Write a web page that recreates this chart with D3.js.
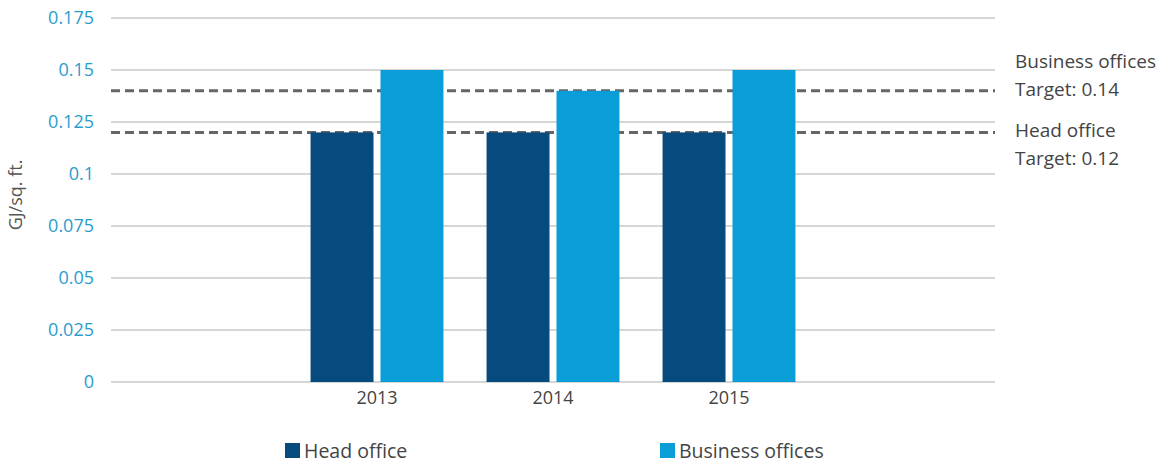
<!DOCTYPE html>
<html>
<head>
<meta charset="utf-8">
<script src="https://cdn.jsdelivr.net/npm/d3@7"></script>
<style>
  html, body { margin: 0; padding: 0; background: #fff; }
  svg { display: block; font-family: "Open Sans", "Noto Sans", sans-serif; }
</style>
</head>
<body>
<svg id="chart" width="1166" height="463"></svg>
<script>
// Energy intensity by year (GJ per square foot)
const years = ["2013", "2014", "2015"];
const seriesNames = ["Head office", "Business offices"];
const headOffice = [0.12, 0.12, 0.12];
const businessOffices = [0.15, 0.14, 0.15];
const targetNames = ["Business offices", "Head office"];
const targetValues = [0.14, 0.12];
const yTicks = [0, 0.025, 0.05, 0.075, 0.1, 0.125, 0.15, 0.175];

const colors = ["#064a7e", "#0b9dd8"];

const svg = d3.select("#chart");
const gridLeft = 111, gridRight = 995;

const y = d3.scaleLinear().domain([0, 0.175]).range([382, 18]);
const x = d3.scaleBand().domain(years).range([289, 817]).paddingInner(0.245).paddingOuter(0.1225);
const xs = d3.scaleBand().domain(seriesNames).range([0, x.bandwidth()]).paddingInner(0.1);

// horizontal gridlines
svg.append("g").selectAll("line").data(yTicks).join("line")
  .attr("x1", gridLeft).attr("x2", gridRight)
  .attr("y1", d => y(d)).attr("y2", d => y(d))
  .attr("stroke", "#c9c9c9").attr("stroke-width", 1.5);

// y tick labels
const yAxis = d3.axisLeft(y).tickValues(yTicks).tickSize(0).tickPadding(0)
  .tickFormat(d => d3.format("")(+d.toFixed(3)));
const ya = svg.append("g").attr("transform", "translate(94,0)").call(yAxis);
ya.select(".domain").remove();
ya.selectAll("text").attr("fill", "#2b9dcd").style("font-size", "18px")
  .style("font-family", "'Open Sans', sans-serif");

// y axis title
svg.append("text")
  .attr("transform", "translate(22,195) rotate(-90)")
  .attr("text-anchor", "middle")
  .attr("fill", "#555").style("font-size", "18px")
  .text("GJ/sq. ft.");

// target lines (drawn beneath the bars)
svg.append("g").selectAll("line").data(targetValues).join("line")
  .attr("x1", gridLeft).attr("x2", gridRight)
  .attr("y1", d => y(d)).attr("y2", d => y(d))
  .attr("stroke", "#666").attr("stroke-width", 3)
  .attr("stroke-dasharray", "9,5");

// bars
const data = years.map((yr, i) => ({ year: yr, values: [headOffice[i], businessOffices[i]] }));
const groups = svg.append("g").selectAll("g").data(data).join("g")
  .attr("transform", d => `translate(${x(d.year)},0)`);
groups.selectAll("rect")
  .data(d => d.values.map((v, j) => ({ name: seriesNames[j], value: v, j })))
  .join("rect")
  .attr("x", d => xs(d.name))
  .attr("width", xs.bandwidth())
  .attr("y", d => y(d.value))
  .attr("height", d => y(0) - y(d.value))
  .attr("fill", d => colors[d.j]);

// x axis labels
const xAxis = d3.axisBottom(x).tickSize(0).tickPadding(0);
const xa = svg.append("g").attr("transform", "translate(0,391)").call(xAxis);
xa.select(".domain").remove();
xa.selectAll("text").attr("fill", "#444").style("font-size", "18px")
  .style("font-family", "'Open Sans', sans-serif").attr("dy", "0.71em");

// target labels on the right: the upper one sits above its line, the lower one below
const labelShift = [-23, 5];
const targetLabels = svg.append("g");
targetValues.forEach((v, i) => {
  const t = targetLabels.append("text")
    .attr("x", 1015).attr("y", y(v) + labelShift[i])
    .attr("fill", "#444").style("font-size", "19px");
  t.append("tspan").attr("x", 1015).text(targetNames[i]);
  t.append("tspan").attr("x", 1015).attr("dy", 28).text("Target: " + v);
});

// legend
const legendX = [285, 660];
const legend = svg.append("g").selectAll("g").data(seriesNames).join("g")
  .attr("transform", (d, i) => `translate(${legendX[i]},443)`);
legend.append("rect").attr("width", 15).attr("height", 15)
  .attr("fill", (d, i) => colors[i]);
legend.append("text").attr("x", 19).attr("y", 15)
  .attr("fill", "#444").style("font-size", "19.5px").text(d => d);
</script>
</body>
</html>
